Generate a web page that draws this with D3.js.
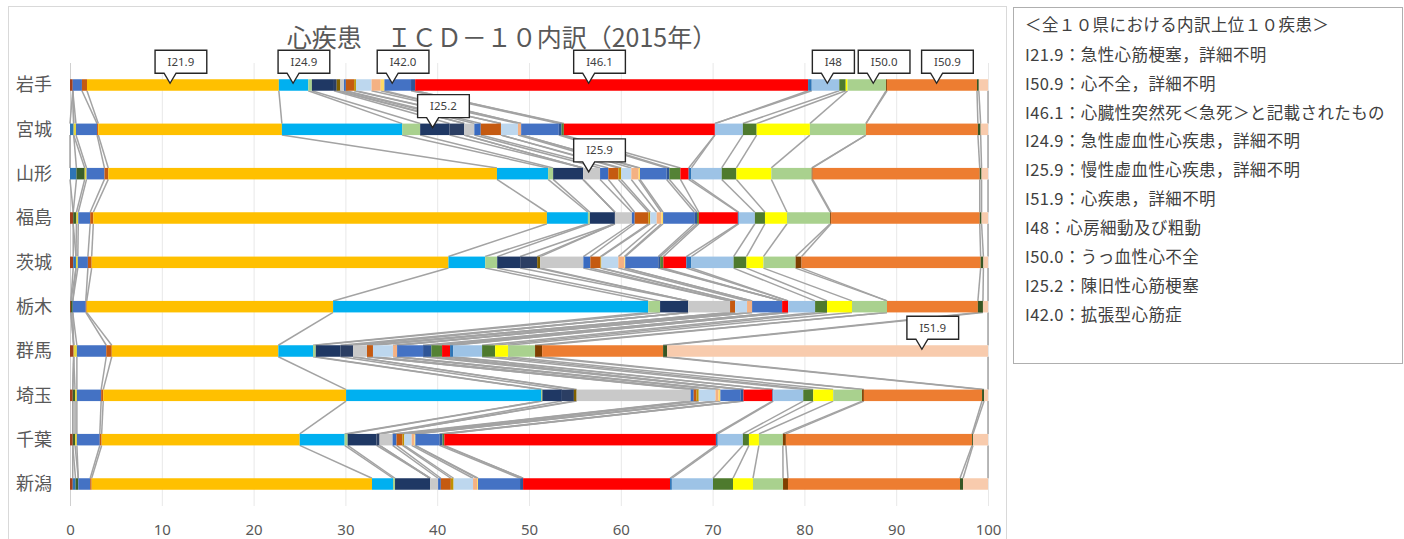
<!DOCTYPE html>
<html>
<head>
<meta charset="utf-8">
<script src="https://cdn.jsdelivr.net/npm/d3@7"></script>
<style>
  html, body { margin: 0; padding: 0; background: #fff; }
  svg { display: block; font-family: "Noto Sans CJK JP", "Noto Sans", sans-serif; }
</style>
</head>
<body>
<svg id="chart" width="1404" height="539"></svg>
<script>
// Prefectures (top to bottom)
const prefectures = ["岩手", "宮城", "山形", "福島", "茨城", "栃木", "群馬", "埼玉", "千葉", "新潟"];

// ICD-10 codes in stacking order
const codes = ["I05", "I08", "I10", "I11", "I20", "I21.4", "I21.9", "I24.9", "I25.1", "I25.2",
  "I25.5", "I25.8", "I25.9", "I27", "I31", "I35", "I38", "I40", "I41", "I42.0",
  "I42.9", "I44", "I46.1", "I46.9", "I48", "I49", "I49.9", "I50.0", "I50.1", "I50.9",
  "I51.6", "I51.9"];

const codeColors = ["#A0401C", "#2E75B6", "#3A5F2A", "#E6D63A", "#4472C4", "#C55A11", "#FFC000", "#00B0F0", "#A9D18E", "#1F3864",
  "#2B3E63", "#7F6000", "#C9C9C9", "#3A6BC0", "#C55A11", "#BF9000", "#BDD7EE", "#F4B183", "#FFD966", "#4472C4",
  "#2F5597", "#548235", "#FF0000", "#2E75B6", "#9DC3E6", "#4E7A2E", "#FFFF00", "#A9D18E", "#7F3F00", "#ED7D31",
  "#375623", "#F8CBAD"];

// Share of deaths (%) per prefecture, one entry per code above
const shareIwate     = [0.3, 0, 0, 0, 1.0, 0.55, 20.9, 3.2, 0.4, 2.4, 0.3, 0.4, 0.4, 0.2, 0.9, 0.2, 1.7, 1.0, 0.4, 2.9, 0.45, 0, 42.8, 0.4, 3.0, 0.7, 0.2, 4.2, 0.1, 9.8, 0.2, 1.0];
const shareMiyagi    = [0, 0.4, 0, 0.25, 2.3, 0.13, 20.0, 13.1, 1.96, 3.2, 1.6, 0, 1.1, 0.7, 2.2, 0, 1.85, 0.35, 0, 4.1, 0.3, 0.25, 16.45, 0, 3.05, 1.5, 5.8, 6.1, 0, 12.2, 0.3, 0.8];
const shareYamagata  = [0, 0.7, 0.9, 0.2, 1.95, 0.42, 42.33, 5.57, 0.55, 3.26, 0, 0, 1.85, 0.9, 1.1, 0.3, 1.1, 0.8, 0.15, 2.9, 0.3, 1.2, 0.9, 0.3, 3.3, 1.6, 3.8, 4.4, 0.1, 18.2, 0.2, 0.7];
const shareFukushima = [0.35, 0, 0.35, 0.2, 1.3, 0.34, 49.42, 4.47, 0.22, 2.72, 0, 0, 1.85, 0.3, 1.5, 0.2, 0.7, 0.5, 0.2, 3.4, 0.3, 0.2, 4.25, 0.1, 1.75, 1.1, 2.4, 4.7, 0.1, 16.2, 0.2, 0.7];
const shareIbaraki   = [0.35, 0.3, 0, 0.2, 1.1, 0.41, 38.85, 4.0, 1.31, 2.5, 1.85, 0.33, 4.7, 0.76, 1.1, 0.1, 1.85, 0.65, 0.1, 3.6, 0.2, 0.35, 2.5, 0.55, 4.6, 1.4, 1.85, 3.5, 0.65, 19.5, 0.3, 0.5];
const shareTochigi   = [0.1, 0, 0.2, 0, 1.42, 0.1, 26.83, 34.31, 1.3, 3.05, 0, 0, 4.57, 0, 0.55, 0, 1.3, 0.55, 0, 3.27, 0, 0, 0.65, 0, 2.94, 1.3, 2.72, 3.81, 0, 9.9, 0.55, 0.55];
const shareGunma     = [0.4, 0, 0, 0.35, 3.2, 0.6, 18.15, 3.78, 0.3, 2.7, 1.36, 0, 1.52, 0, 0.65, 0, 2.19, 0.44, 0, 2.83, 0.9, 1.17, 0.87, 0.33, 3.16, 1.42, 1.41, 2.94, 0.77, 13.18, 0.44, 34.96];
const shareSaitama   = [0.3, 0, 0.25, 0.2, 2.65, 0.23, 26.51, 21.28, 0.15, 2.13, 1.31, 0.3, 12.45, 0.33, 0.3, 0.25, 1.83, 0.33, 0.2, 2.19, 0.33, 0, 3.16, 0.1, 3.27, 1.09, 2.18, 3.15, 0.2, 12.9, 0.22, 0.43];
const shareChiba     = [0.3, 0, 0.25, 0.2, 2.5, 0.2, 21.6, 4.9, 0.33, 3.15, 0.33, 0, 1.42, 0.43, 0.65, 0.2, 0.8, 0.3, 0.1, 2.63, 0.33, 0.2, 29.62, 0.2, 2.74, 0.66, 1.09, 2.61, 0.33, 20.3, 0.1, 1.64];
const shareNiigata   = [0.3, 0.3, 0.3, 0, 1.3, 0.16, 30.54, 2.29, 0.22, 3.82, 0, 0, 0.87, 0.3, 1.09, 0.3, 2.12, 0.44, 0.1, 4.58, 0.33, 0, 16.01, 0.2, 4.48, 2.18, 2.18, 3.27, 0.54, 18.74, 0.33, 2.72];

const shares = [shareIwate, shareMiyagi, shareYamagata, shareFukushima, shareIbaraki,
  shareTochigi, shareGunma, shareSaitama, shareChiba, shareNiigata];

const tickValues = [0, 10, 20, 30, 40, 50, 60, 70, 80, 90, 100];

const chartTitle = "心疾患　ＩＣＤ－１０内訳（2015年）";

// Callout labels: code, prefecture row, and the axis position the pointer marks
const calloutCodes = ["I21.9", "I24.9", "I42.0", "I46.1", "I48", "I50.0", "I50.9", "I25.2", "I25.9", "I51.9"];
const calloutPrefs = ["岩手", "岩手", "岩手", "岩手", "岩手", "岩手", "岩手", "宮城", "山形", "群馬"];
const calloutAt    = [10.9, 24.3, 35.1, 56.5, 82.5, 87.5, 94.4, 39.5, 56.5, 92.8];

// Top-10 list shown in the side box
const legendHeader = "＜全１０県における内訳上位１０疾患＞";
const top10Codes = ["I21.9", "I50.9", "I46.1", "I24.9", "I25.9", "I51.9", "I48", "I50.0", "I25.2", "I42.0"];
const top10Names = ["急性心筋梗塞，詳細不明", "心不全，詳細不明", "心臓性突然死＜急死＞と記載されたもの",
  "急性虚血性心疾患，詳細不明", "慢性虚血性心疾患，詳細不明", "心疾患，詳細不明", "心房細動及び粗動",
  "うっ血性心不全", "陳旧性心筋梗塞", "拡張型心筋症"];

// ---------- build ----------
const svg = d3.select("#chart");
const textGray = "#595959";

const table = prefectures.map((p, i) => {
  const row = { pref: p };
  codes.forEach((c, j) => { row[c] = shares[i][j]; });
  return row;
});
const stacked = d3.stack().keys(codes).offset(d3.stackOffsetExpand)(table);
const colorOf = d3.scaleOrdinal().domain(codes).range(codeColors);

const x = d3.scaleLinear().domain([0, 100]).range([70, 988]);
const y = d3.scalePoint().domain(prefectures).range([85, 484]);
const barH = 11.5;

// chart frame
svg.append("rect").attr("x", 8.5).attr("y", 6.5).attr("width", 998).attr("height", 540)
  .attr("fill", "#fff").attr("stroke", "#D9D9D9").attr("stroke-width", 1);

// vertical gridlines
svg.append("g").selectAll("line").data(tickValues.slice(1)).join("line")
  .attr("x1", d => x(d) + 0.5).attr("x2", d => x(d) + 0.5)
  .attr("y1", 63).attr("y2", 506)
  .attr("stroke", "#E8E8E8").attr("stroke-width", 1);
svg.append("line").attr("x1", 70.5).attr("x2", 70.5).attr("y1", 63).attr("y2", 506)
  .attr("stroke", "#D0D0D0").attr("stroke-width", 1);

// title
svg.append("text").attr("x", 502).attr("y", 38).attr("dy", "0.35em")
  .attr("text-anchor", "middle").attr("font-size", 25).attr("fill", textGray)
  .text(chartTitle);

// series lines joining each segment end to the next prefecture's bar
const seriesLines = [];
stacked.forEach(s => {
  for (let i = 0; i < prefectures.length - 1; i++) {
    seriesLines.push({
      x1: x(s[i][1] * 100), y1: y(prefectures[i]) + barH / 2,
      x2: x(s[i + 1][1] * 100), y2: y(prefectures[i + 1]) - barH / 2
    });
  }
});
svg.append("g").selectAll("line").data(seriesLines).join("line")
  .attr("x1", d => d.x1).attr("y1", d => d.y1).attr("x2", d => d.x2).attr("y2", d => d.y2)
  .attr("stroke", "#A3A3A3").attr("stroke-width", 1.5);

// stacked bars
svg.append("g").selectAll("g").data(stacked).join("g")
  .attr("fill", d => colorOf(d.key))
  .selectAll("rect").data(d => d).join("rect")
  .attr("x", d => x(d[0] * 100))
  .attr("width", d => Math.max(0, x(d[1] * 100) - x(d[0] * 100)))
  .attr("y", d => y(d.data.pref) - barH / 2)
  .attr("height", barH);

// axes
const xAxis = svg.append("g").attr("transform", "translate(0,519)")
  .call(d3.axisBottom(x).tickValues(tickValues).tickSize(0).tickPadding(5));
xAxis.select(".domain").remove();
xAxis.selectAll("text").attr("font-size", 15).attr("fill", textGray)
  .attr("font-family", "'Noto Sans', sans-serif");

const yAxis = svg.append("g").attr("transform", "translate(55,0)")
  .call(d3.axisLeft(y).tickSize(0).tickPadding(3));
yAxis.select(".domain").remove();
yAxis.selectAll("text").attr("font-size", 18).attr("fill", textGray)
  .attr("font-family", "'Noto Sans CJK JP', sans-serif");

// callouts
const cg = svg.append("g");
calloutCodes.forEach((code, i) => {
  const seg = stacked.find(s => s.key === code);
  const tipX = x(calloutAt[i]);
  const barTop = y(calloutPrefs[i]) - barH / 2;
  const tipY = barTop + 4;
  const boxBottom = barTop - 6;
  const boxTop = boxBottom - 23;
  const g = cg.append("g").datum(seg);
  const path = g.append("path");
  const t = g.append("text").attr("font-size", 11.5).attr("fill", "#404040")
    .attr("font-family", "'Noto Sans', sans-serif")
    .attr("text-anchor", "middle").text(code);
  const w = t.node().getComputedTextLength() + 25;
  const left = tipX - 15;
  const right = left + w;
  t.attr("x", (left + right) / 2).attr("y", (boxTop + boxBottom) / 2).attr("dy", "0.35em");
  path.attr("d", `M${left},${boxTop}H${right}V${boxBottom}H${tipX + 6}L${tipX},${tipY}L${tipX - 6},${boxBottom}H${left}Z`)
    .attr("fill", "#fff").attr("stroke", "#262626").attr("stroke-width", 1.4)
    .attr("stroke-linejoin", "miter");
});

// side box with the top-10 list
const lg = svg.append("g");
lg.append("rect").attr("x", 1013.5).attr("y", 7.5).attr("width", 389).attr("height", 356)
  .attr("fill", "#fff").attr("stroke", "#AFAFAF").attr("stroke-width", 1);
lg.append("text").attr("x", 1025).attr("y", 25).attr("dy", "0.35em")
  .attr("font-size", 16.5).attr("letter-spacing", 0.4).attr("fill", "#404040").text(legendHeader);
lg.selectAll("text.item").data(top10Codes).join("text").attr("class", "item")
  .attr("x", 1025).attr("y", (d, i) => 55 + i * 28.9).attr("dy", "0.35em")
  .attr("font-size", 16.5).attr("letter-spacing", 0.4).attr("fill", "#404040")
  .text((d, i) => d + "：" + top10Names[i]);
</script>
</body>
</html>
